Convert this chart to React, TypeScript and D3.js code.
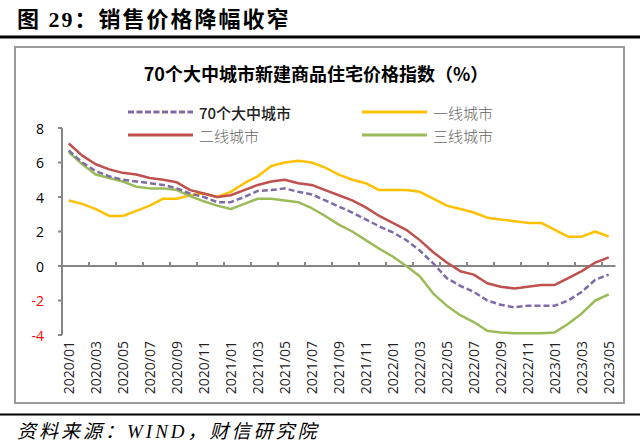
import React from "react";
import * as d3 from "d3";

const months: string[] = [];
for (let y = 2020; y <= 2023; y++) {
  for (let m = 1; m <= 12; m++) {
    if (y === 2023 && m > 5) break;
    months.push(`${y}/${String(m).padStart(2, "0")}`);
  }
}

const seriesNames = ["70个大中城市", "一线城市", "二线城市", "三线城市"];

const city70 = [6.7, 6.0, 5.5, 5.2, 5.0, 4.9, 4.8, 4.7, 4.5, 4.2, 4.0, 3.7, 3.7, 4.0, 4.35, 4.4, 4.5, 4.3, 4.15, 3.8, 3.45, 3.1, 2.7, 2.3, 1.95, 1.5, 0.9, 0.15, -0.7, -1.15, -1.5, -2.0, -2.25, -2.4, -2.3, -2.3, -2.3, -2.0, -1.5, -0.8, -0.5];
const tier1 = [3.8, 3.6, 3.3, 2.9, 2.9, 3.2, 3.5, 3.9, 3.9, 4.1, 4.2, 4.0, 4.3, 4.8, 5.2, 5.8, 6.0, 6.1, 6.0, 5.7, 5.3, 5.0, 4.8, 4.4, 4.4, 4.4, 4.3, 3.9, 3.5, 3.3, 3.1, 2.8, 2.7, 2.6, 2.5, 2.5, 2.1, 1.7, 1.7, 2.0, 1.7];
const tier2 = [7.1, 6.4, 5.9, 5.6, 5.4, 5.3, 5.1, 5.0, 4.85, 4.4, 4.2, 4.0, 4.1, 4.4, 4.7, 4.9, 5.0, 4.8, 4.7, 4.4, 4.1, 3.8, 3.4, 2.9, 2.5, 2.1, 1.5, 0.8, 0.2, -0.3, -0.5, -1.0, -1.2, -1.3, -1.2, -1.1, -1.1, -0.7, -0.3, 0.2, 0.5];
const tier3 = [6.6, 5.9, 5.3, 5.1, 4.9, 4.6, 4.5, 4.5, 4.4, 4.05, 3.75, 3.5, 3.3, 3.6, 3.9, 3.9, 3.8, 3.7, 3.35, 2.9, 2.4, 2.0, 1.5, 1.0, 0.55, 0.0, -0.6, -1.6, -2.3, -2.85, -3.25, -3.75, -3.85, -3.9, -3.9, -3.9, -3.85, -3.35, -2.75, -2.0, -1.65];

const yTicks = [8, 6, 4, 2, 0, -2, -4];

const colors = ["#7E6BA8", "#FFC000", "#C0504D", "#9BBB59"];

export default function App() {
  const W = 640, H = 447;
  const left = 62, right = 615.5, top = 128, bottom = 335;

  const x = d3.scaleBand<number>().domain(months.map((_, i) => i)).range([left, right]).paddingInner(0).paddingOuter(0);
  const y = d3.scaleLinear().domain([-4, 8]).range([bottom, top]);
  const cx = (i: number) => (x(i) as number) + x.bandwidth() / 2;

  const line = d3.line<number>().x((_, i) => cx(i)).y((d) => y(d));

  const data = [city70, tier1, tier2, tier3];
  const drawOrder = [1, 3, 2, 0];

  const tickIdx = months.map((_, i) => i).filter((i) => i % 2 === 0);

  const legend = [
    { i: 0, lx: 128, ly: 112 },
    { i: 1, lx: 362, ly: 112 },
    { i: 2, lx: 128, ly: 135 },
    { i: 3, lx: 362, ly: 135 },
  ];

  return (
    <svg width={W} height={H} style={{ position: "absolute", left: 0, top: 0 }}>
      <rect width={W} height={H} fill="#fff" />
      {/* header */}
      <text x={17} y={27} fontSize={22} fontWeight="bold" letterSpacing={2}
        fontFamily="'Liberation Serif','Noto Sans CJK SC',serif" fill="#000">
        图 29：销售价格降幅收窄
      </text>
      <line x1={0} x2={640} y1={37} y2={37} stroke="#000" strokeWidth={3} />
      {/* chart frame */}
      <rect x={15} y={47} width={609} height={356} fill="#fff" stroke="#9a9a9a" strokeWidth={2} />
      {/* chart title */}
      <text x={316} y={81} textAnchor="middle" fontSize={18} fontWeight="bold"
        fontFamily="'Noto Sans CJK SC',sans-serif" fill="#000">
        70个大中城市新建商品住宅价格指数（%）
      </text>
      {/* legend */}
      {legend.map((l) => (
        <g key={l.i}>
          <line x1={l.lx} x2={l.lx + 65} y1={l.ly} y2={l.ly} stroke={colors[l.i]} strokeWidth={3}
            strokeDasharray={l.i === 0 ? "6,2.5" : undefined} />
          <text x={l.lx + 71} y={l.ly} dominantBaseline="central" fontSize={15}
            fontFamily="'Noto Sans CJK SC',sans-serif" fill={l.i === 0 ? "#222" : "#666"}
            fontWeight={l.i === 0 ? 500 : 300}>
            {seriesNames[l.i]}
          </text>
        </g>
      ))}
      {/* y axis */}
      <line x1={left} x2={left} y1={top} y2={bottom} stroke="#868686" strokeWidth={2} />
      {yTicks.map((t) => (
        <g key={t}>
          <line x1={left - 4} x2={left} y1={y(t)} y2={y(t)} stroke="#868686" strokeWidth={2} />
          <text x={44} y={y(t)} textAnchor="end" dominantBaseline="central" fontSize={14}
            fontFamily="'Open Sans','Liberation Sans',sans-serif" fill={t < 0 ? "#FF0000" : "#000"}>
            {t}
          </text>
        </g>
      ))}
      {/* x axis at zero */}
      <line x1={left} x2={right} y1={y(0)} y2={y(0)} stroke="#868686" strokeWidth={2} />
      {tickIdx.map((i) => (
        <line key={i} x1={x(i) as number} x2={x(i) as number} y1={y(0)} y2={y(0) - 4} stroke="#868686" strokeWidth={2} />
      ))}
      {/* x labels */}
      {tickIdx.map((i) => (
        <text key={i} transform={`translate(${cx(i)},341) rotate(-90)`} textAnchor="end"
          dominantBaseline="central" fontSize={14}
          fontFamily="'Open Sans','Liberation Sans',sans-serif" fill="#222">
          {months[i]}
        </text>
      ))}
      {/* lines */}
      {drawOrder.map((s) => (
        <path key={s} d={line(data[s]) || ""} fill="none" stroke={colors[s]} strokeWidth={2.5}
          strokeDasharray={s === 0 ? "6,3" : undefined} strokeLinejoin="round" />
      ))}
      {/* footer */}
      <line x1={0} x2={640} y1={414.5} y2={414.5} stroke="#000" strokeWidth={2} />
      <text x={17} y={438} fontSize={19} fontStyle="italic" letterSpacing={3}
        fontFamily="'Liberation Serif','Noto Sans CJK SC',serif" fill="#000">
        资料来源：WIND，财信研究院
      </text>
    </svg>
  );
}
